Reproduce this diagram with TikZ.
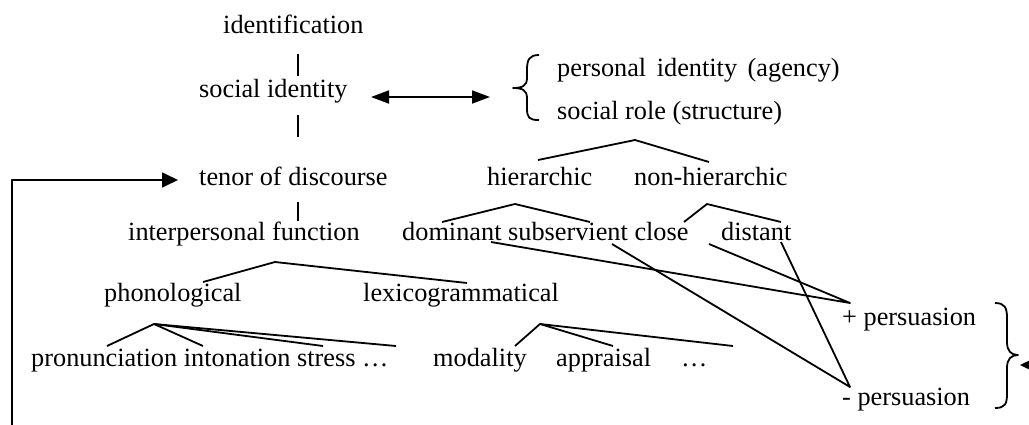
\documentclass[tikz,border=0pt]{standalone}
\usepackage{fontspec}
\setmainfont{Liberation Serif}
\usetikzlibrary{arrows.meta}
\begin{document}
\begin{tikzpicture}[x=1pt,y=-1pt,
  lbl/.style={anchor=base west,inner sep=0pt,font=\fontsize{26.3}{30}\selectfont},
  ln/.style={line width=1.8pt,line join=round},
  headtip/.style={-{Triangle[length=16pt,width=15pt]}},
  dbltip/.style={{Triangle[length=18pt,width=13pt]}-{Triangle[length=18pt,width=13pt]}}]
\useasboundingbox (0,0) rectangle (1029,424);
% texts
\node[lbl] (ident) at (223,33) {identification};
\node[lbl] (socid) at (199,97) {social identity};
\node[lbl] (pers) at (557,76) {personal\hspace{0.4em}identity\hspace{0.4em}(agency)};
\node[lbl] (role) at (557,119) {social role (structure)};
\node[lbl] (tenor) at (199,185) {tenor of discourse};
\node[lbl] (hier) at (487,185) {hierarchic};
\node[lbl] (nonhier) at (634,185) {non-hierarchic};
\node[lbl] (interp) at (128,240) {interpersonal function};
\node[lbl] (dsc) at (402,240) {dominant subservient close};
\node[lbl] (dist) at (721,240) {distant};
\node[lbl] (phon) at (104,301) {phonological};
\node[lbl] (lexi) at (363,301) {lexicogrammatical};
\node[lbl] (ppos) at (842,325) {+ persuasion};
\node[lbl] (pron) at (31,366) {pronunciation intonation stress …};
\node[lbl] (moda) at (433,366) {modality};
\node[lbl] (appr) at (556,366) {appraisal};
\node[lbl] (dots) at (681,366) {…};
\node[lbl] (pneg) at (842,405) {- persuasion};
% coordinates
\coordinate (v1a) at (298,54); \coordinate (v1b) at (298,76);
\coordinate (v2a) at (298,115); \coordinate (v2b) at (298,137);
\coordinate (v3a) at (298,202); \coordinate (v3b) at (298,221);
\coordinate (da) at (371,97); \coordinate (db) at (490,97);
\coordinate (ta) at (635,140); \coordinate (tl) at (538,160); \coordinate (tr) at (709,162);
\coordinate (ha) at (515,204); \coordinate (hl) at (442,222); \coordinate (hr) at (590,222);
\coordinate (na) at (707,204); \coordinate (nl) at (684,222); \coordinate (nr) at (781,222);
\coordinate (pa) at (275,262); \coordinate (pl) at (203,282); \coordinate (pr) at (467,283);
\coordinate (qa) at (154,324); \coordinate (q1) at (107,346); \coordinate (q2) at (203,346);
\coordinate (q3) at (323,346); \coordinate (q4) at (396,346);
\coordinate (la) at (540,324); \coordinate (l1) at (515,346); \coordinate (l2) at (613,346);
\coordinate (l3) at (733,346);
\coordinate (plus) at (850,303); \coordinate (minus) at (850,387);
\coordinate (sdom) at (491,242); \coordinate (sclo) at (709,244);
\coordinate (ssub) at (612,244); \coordinate (sdis) at (781,242);
\coordinate (fb) at (12,430); \coordinate (fc) at (12,180); \coordinate (ft) at (178,180);
\coordinate (rs) at (1045,365); \coordinate (re) at (1020,365);
% vertical links
\draw[ln] (v1a) -- (v1b);
\draw[ln] (v2a) -- (v2b);
\draw[ln] (v3a) -- (v3b);
% double arrow
\draw[ln,dbltip] (da) -- (db);
% left brace
\draw[ln] (539,55) .. controls (529,55) and (527,60) .. (527,70) -- (527,78)
  .. controls (527,86) and (522,88) .. (513,88)
  .. controls (522,88) and (527,90) .. (527,98) -- (527,108)
  .. controls (527,118) and (529,120) .. (539,120);
% right brace
\draw[ln] (995,303) .. controls (1005,303) and (1007,308) .. (1007,318) -- (1007,342)
  .. controls (1007,351) and (1011,355) .. (1018,355)
  .. controls (1011,355) and (1007,359) .. (1007,368) -- (1007,394)
  .. controls (1007,404) and (1005,408) .. (995,408);
% trees
\draw[ln] (tl) -- (ta) -- (tr);
\draw[ln] (hl) -- (ha) -- (hr);
\draw[ln] (nl) -- (na) -- (nr);
\draw[ln] (pl) -- (pa) -- (pr);
\draw[ln] (q1) -- (qa) -- (q2);
\draw[ln] (qa) -- (q3);
\draw[ln] (qa) -- (q4);
\draw[ln] (l1) -- (la) -- (l2);
\draw[ln] (la) -- (l3);
% persuasion links
\draw[ln] (sdom) -- (plus) -- (sclo);
\draw[ln] (ssub) -- (minus) -- (sdis);
% feedback arrows
\draw[ln,headtip] (fb) -- (fc) -- (ft);
\draw[ln,headtip] (rs) -- (re);
\end{tikzpicture}
\end{document}
